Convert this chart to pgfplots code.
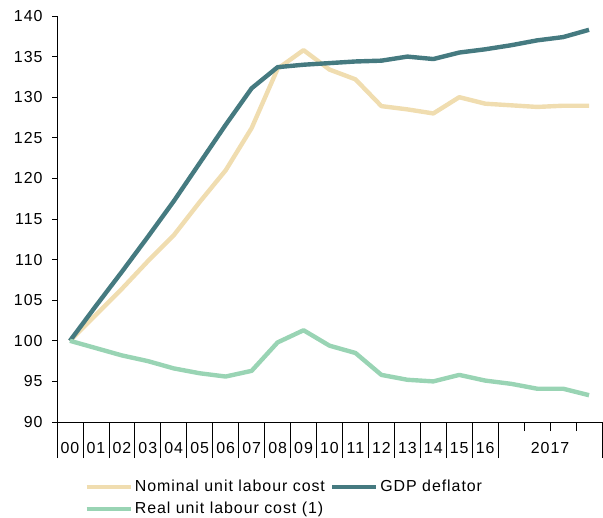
\documentclass[border=0pt]{standalone}
\usepackage{fontspec}
\setmainfont{Liberation Sans}[LetterSpace=6]
\usepackage{pgfplots}
\pgfplotsset{compat=1.18}
\definecolor{nomcol}{RGB}{240,221,176}
\definecolor{gdpcol}{RGB}{69,122,128}
\definecolor{realcol}{RGB}{153,212,180}

\begin{document}
\begin{tikzpicture}
\useasboundingbox (0,0) rectangle (603bp,518bp);
\begin{axis}[
    at={(57bp,96bp)}, anchor=south west,
    scale only axis,
    width=545bp, height=406bp,
    xmin=-0.5, xmax=20.5,
    ymin=90, ymax=140,
    axis x line*=bottom,
    axis y line*=left,
    axis line style={line width=0.8pt},
    tick align=outside,
    tick style={black, line width=0.8pt},
    ytick={90,95,...,140},
    major tick length=5bp,
    x tick label as interval,
    xtick={-0.5,0.5,...,16.5,20.5},
    xticklabels={00,01,02,03,04,05,06,07,08,09,10,11,12,13,14,15,16,2017},
    x tick style={/pgfplots/major tick length=36bp},
    minor xtick={17.5,18.5,19.5},
    minor tick length=9bp,
    ticklabel style={font=\fontsize{16}{19}\selectfont},
    xticklabel style={yshift=-12bp},
    yticklabel style={xshift=-6bp},
    /pgf/number format/assume math mode=true,
    legend style={at={(0.05,-0.138)}, anchor=north west, draw=none, fill=none,
        font=\fontsize{16}{19}\selectfont, inner sep=0pt,
        /tikz/every even column/.append style={column sep=3bp},
        row sep=5bp},
    legend columns=2,
    legend cell align=left,
    legend image code/.code={\draw[#1] (0bp,0bp) -- (44bp,0bp);},
    every axis plot/.append style={line width=4.4bp, line join=round},
]
\addplot[nomcol] coordinates {
(0,100) (1,103.2) (2,106.4) (3,109.8) (4,113.0) (5,117.1) (6,121.0) (7,126.2)
(8,133.5) (9,135.8) (10,133.4) (11,132.2) (12,128.9) (13,128.5) (14,128.0)
(15,130.0) (16,129.2) (17,129.0) (18,128.8) (19,128.95) (20,128.95)
};
\addplot[gdpcol] coordinates {
(0,100) (1,104.3) (2,108.5) (3,112.8) (4,117.2) (5,121.9) (6,126.6) (7,131.1)
(8,133.7) (9,134.0) (10,134.2) (11,134.4) (12,134.5) (13,135.0) (14,134.7)
(15,135.5) (16,135.9) (17,136.4) (18,137.0) (19,137.4) (20,138.3)
};
\addplot[realcol] coordinates {
(0,100) (1,99.1) (2,98.2) (3,97.5) (4,96.6) (5,96.0) (6,95.6) (7,96.3)
(8,99.8) (9,101.3) (10,99.4) (11,98.5) (12,95.8) (13,95.2) (14,95.0)
(15,95.8) (16,95.1) (17,94.7) (18,94.1) (19,94.1) (20,93.3)
};
\legend{Nominal unit labour cost,GDP deflator,Real unit labour cost (1)}
\end{axis}
\end{tikzpicture}
\end{document}
